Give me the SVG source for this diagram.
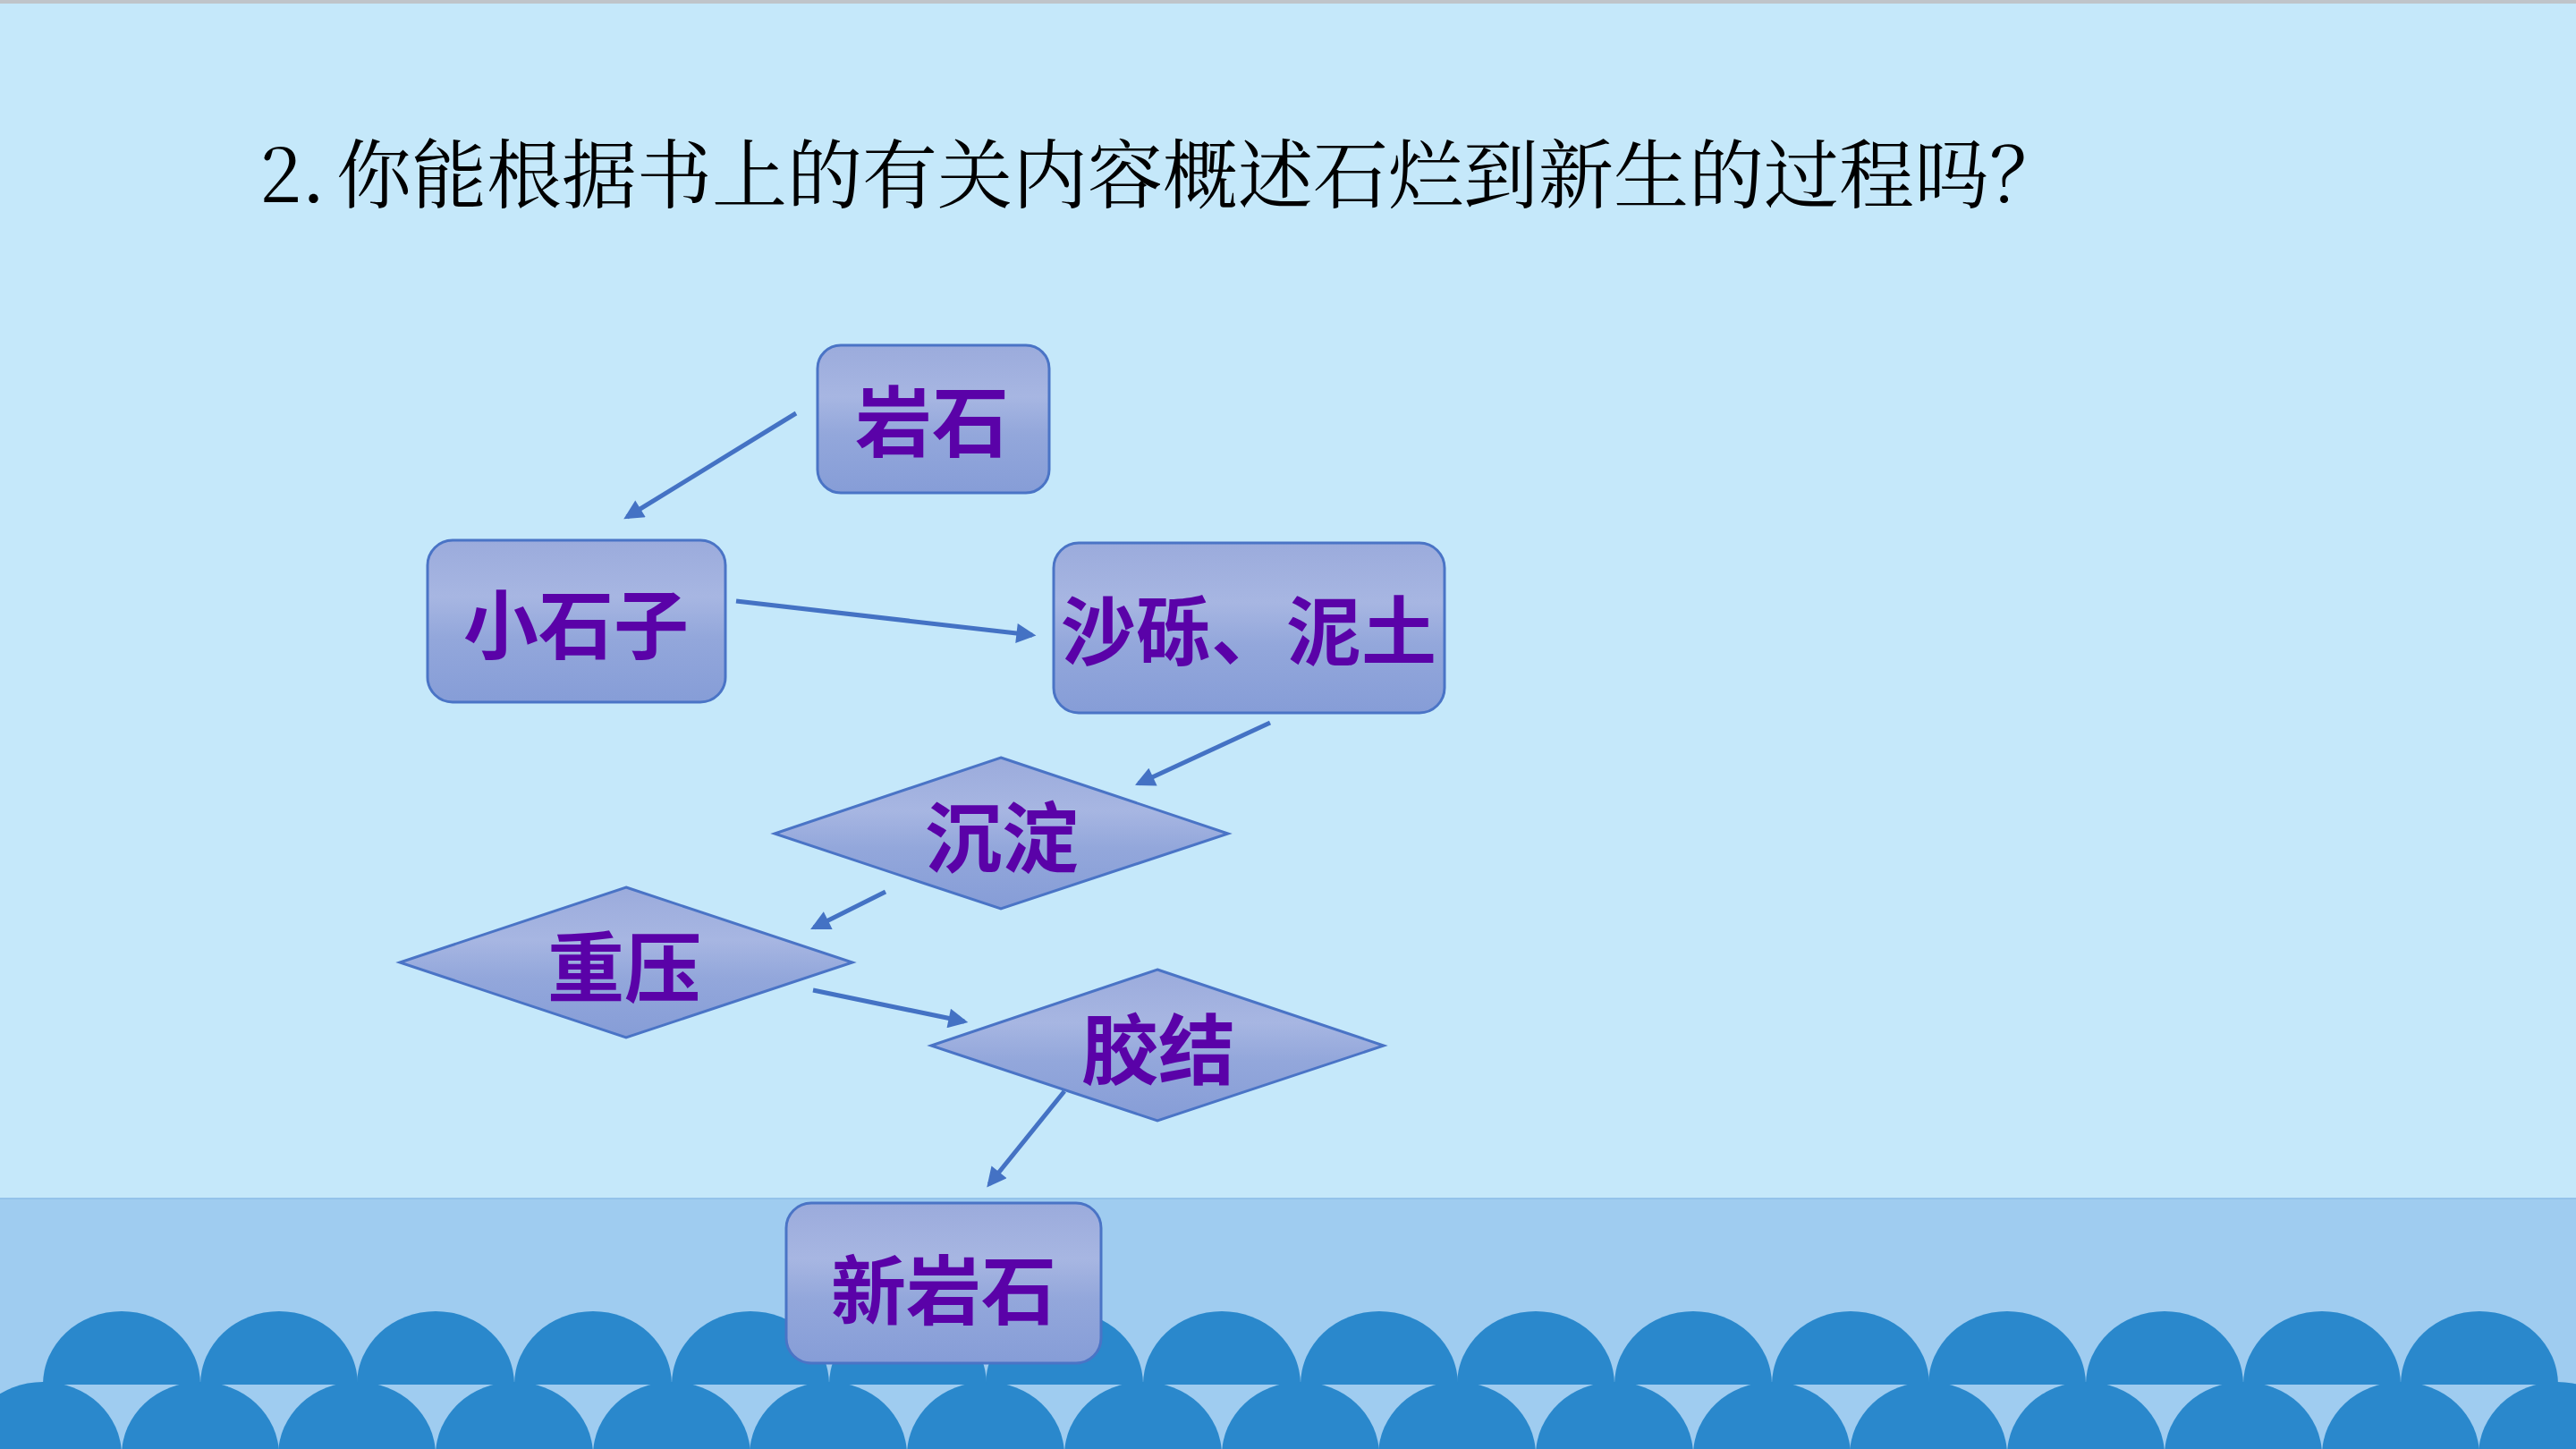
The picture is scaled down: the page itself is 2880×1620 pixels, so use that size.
<svg xmlns="http://www.w3.org/2000/svg" xmlns:xlink="http://www.w3.org/1999/xlink" width="2880" height="1620" viewBox="0 0 2880 1620">
<style>
.node{stroke:#4A74C6;stroke-width:3;fill:url(#nodeGrad)}
.lbl{font-family:"Noto Sans CJK SC","Noto Sans CJK JP",sans-serif;font-weight:700;fill:#5A02A8;text-anchor:middle;dominant-baseline:central}
.conn{stroke:#4472C4;stroke-width:5;fill:none;marker-end:url(#arr)}
.title{font-family:"Noto Serif CJK SC","Noto Sans CJK SC","Noto Sans CJK JP",serif;font-weight:400;fill:#000;font-size:84px}
.bump{fill:#2A88CC}
</style>
<defs>
<linearGradient id="nodeGrad" x1="0" y1="0" x2="0" y2="1">
<stop offset="0" stop-color="#9BABDC"/>
<stop offset="0.35" stop-color="#A7B6E2"/>
<stop offset="0.6" stop-color="#93A7DB"/>
<stop offset="1" stop-color="#869DD7"/>
</linearGradient>
<marker id="arr" viewBox="0 0 10 10" refX="8" refY="5" markerWidth="30" markerHeight="22" markerUnits="userSpaceOnUse" orient="auto">
<path d="M0,0 L10,5 L0,10 z" fill="#4472C4"/>
</marker>
<path id="bp" d="M-88,82 A88 82 0 0 1 88 82 Z"/>
</defs>
<!-- background -->
<rect x="0" y="0" width="2880" height="1620" fill="#C5E8FA"/>
<rect x="0" y="0" width="2880" height="4" fill="#BFC4C9"/>
<rect x="0" y="1339" width="2880" height="281" fill="#9FCCF0"/>
<rect x="0" y="1339" width="2880" height="2" fill="#94C3EA"/>
<!-- scallops lower row -->
<g class="bump">
<use xlink:href="#bp" x="48" y="1545"/><use xlink:href="#bp" x="224" y="1545"/><use xlink:href="#bp" x="399" y="1545"/><use xlink:href="#bp" x="575" y="1545"/><use xlink:href="#bp" x="751" y="1545"/><use xlink:href="#bp" x="926" y="1545"/><use xlink:href="#bp" x="1102" y="1545"/><use xlink:href="#bp" x="1278" y="1545"/><use xlink:href="#bp" x="1454" y="1545"/><use xlink:href="#bp" x="1629" y="1545"/><use xlink:href="#bp" x="1805" y="1545"/><use xlink:href="#bp" x="1981" y="1545"/><use xlink:href="#bp" x="2156" y="1545"/><use xlink:href="#bp" x="2332" y="1545"/><use xlink:href="#bp" x="2508" y="1545"/><use xlink:href="#bp" x="2684" y="1545"/><use xlink:href="#bp" x="2859" y="1545"/>
</g>
<!-- scallops upper row -->
<g class="bump">
<use xlink:href="#bp" x="136" y="1466"/><use xlink:href="#bp" x="312" y="1466"/><use xlink:href="#bp" x="487" y="1466"/><use xlink:href="#bp" x="663" y="1466"/><use xlink:href="#bp" x="839" y="1466"/><use xlink:href="#bp" x="1015" y="1466"/><use xlink:href="#bp" x="1190" y="1466"/><use xlink:href="#bp" x="1366" y="1466"/><use xlink:href="#bp" x="1542" y="1466"/><use xlink:href="#bp" x="1717" y="1466"/><use xlink:href="#bp" x="1893" y="1466"/><use xlink:href="#bp" x="2069" y="1466"/><use xlink:href="#bp" x="2244" y="1466"/><use xlink:href="#bp" x="2420" y="1466"/><use xlink:href="#bp" x="2596" y="1466"/><use xlink:href="#bp" x="2772" y="1466"/>
</g>
<!-- title -->
<text class="title" x="290" y="226">2.<tspan x="376">你能根据书上的有关内容概述石烂到新生的过程吗？</tspan></text>
<!-- connectors -->
<g id="connectors">
<line class="conn" x1="890" y1="462" x2="701" y2="578"/>
<line class="conn" x1="823" y1="672" x2="1154" y2="710"/>
<line class="conn" x1="1420" y1="808" x2="1273" y2="876"/>
<line class="conn" x1="990" y1="997" x2="910" y2="1037"/>
<line class="conn" x1="909" y1="1107" x2="1078" y2="1142"/>
<line class="conn" x1="1190" y1="1220" x2="1106" y2="1324"/>
</g>
<!-- nodes -->
<g id="n-yanshi">
<rect class="node" x="914" y="386" width="259" height="165" rx="26"/>
<text class="lbl" x="1042" y="466" font-size="86">岩石</text>
</g>
<g id="n-xiaoshizi">
<rect class="node" x="478" y="604" width="333" height="181" rx="28"/>
<text class="lbl" x="644" y="693" font-size="84">小石子</text>
</g>
<g id="n-shali">
<rect class="node" x="1178" y="607" width="437" height="190" rx="28"/>
<text class="lbl" x="1396" y="700" font-size="84">沙砾、泥土</text>
</g>
<g id="n-chendian">
<polygon class="node" points="1119,847 1373,932 1119,1016 866,932"/>
<text class="lbl" x="1120" y="931" font-size="86">沉淀</text>
</g>
<g id="n-zhongya">
<polygon class="node" points="700,992 953,1076 700,1160 447,1076"/>
<text class="lbl" x="698" y="1076" font-size="86">重压</text>
</g>
<g id="n-jiaojie">
<polygon class="node" points="1294,1084 1547,1169 1294,1253 1041,1169"/>
<text class="lbl" x="1295" y="1168" font-size="86">胶结</text>
</g>
<g id="n-xinyanshi">
<rect class="node" x="879" y="1345" width="352" height="179" rx="28"/>
<text class="lbl" x="1055" y="1437" font-size="84">新岩石</text>
</g>
</svg>
